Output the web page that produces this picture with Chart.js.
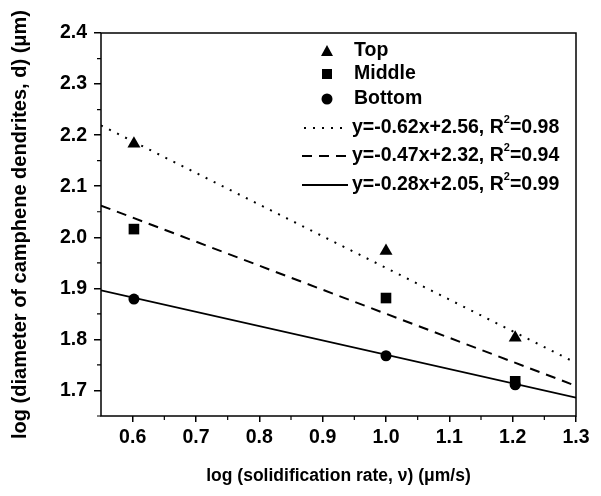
<!DOCTYPE html>
<html>
<head>
<meta charset="utf-8">
<script src="https://cdn.jsdelivr.net/npm/chart.js@4.4.1/dist/chart.umd.min.js"></script>
<style>
  html, body { margin: 0; padding: 0; background: #fff; }
  #wrap { width: 601px; height: 496px; }
</style>
</head>
<body>
<div id="wrap"><canvas id="c" width="601" height="496"></canvas></div>
<script>
// measured points (log v, log d)
const xVals = [0.602, 1.0, 1.204];
const topVals = [2.183, 1.973, 1.803];
const middleVals = [2.016, 1.881, 1.718];
const bottomVals = [1.879, 1.768, 1.711];

// fitted lines, end points at x = 0.55 and 1.3
const fitX = [0.55, 1.3];
const fitTop = [2.219, 1.754];
const fitMiddle = [2.062, 1.709];
const fitBottom = [1.896, 1.686];

const fitLabels = ['y=-0.62x+2.56, R', 'y=-0.47x+2.32, R', 'y=-0.28x+2.05, R'];
const fitR2 = ['=0.98', '=0.94', '=0.99'];

const xTicks = [0.6, 0.7, 0.8, 0.9, 1.0, 1.1, 1.2, 1.3];
const yTicks = [1.7, 1.8, 1.9, 2.0, 2.1, 2.2, 2.3, 2.4];

const FONT = "'Liberation Sans', Arial, sans-serif";
const FS = 19.5;

function pts(xs, ys) {
    return xs.map((x, i) => ({ x: x, y: ys[i] }));
}

// frame + minor ticks
const framePlugin = {
    id: 'frame',
    afterDraw(chart) {
        const { ctx, chartArea: a, scales } = chart;
        ctx.save();
        ctx.strokeStyle = '#000';
        ctx.lineWidth = 1.5;
        ctx.strokeRect(a.left, a.top, a.right - a.left, a.bottom - a.top);
        ctx.lineWidth = 1.2;
        ctx.beginPath();
        for (let i = 0; i < xTicks.length - 1; i++) {
            const px = scales.x.getPixelForValue((xTicks[i] + xTicks[i + 1]) / 2);
            ctx.moveTo(px, a.bottom);
            ctx.lineTo(px, a.bottom + 4);
        }
        for (let i = 0; i < yTicks.length - 1; i++) {
            const py = scales.y.getPixelForValue((yTicks[i] + yTicks[i + 1]) / 2);
            ctx.moveTo(a.left, py);
            ctx.lineTo(a.left - 4, py);
        }
        const py0 = scales.y.getPixelForValue(1.65);
        ctx.moveTo(a.left, py0);
        ctx.lineTo(a.left - 4, py0);
        ctx.stroke();
        ctx.restore();
    }
};

// legend drawn inside the plot
const legendPlugin = {
    id: 'customLegend',
    afterDraw(chart) {
        const ctx = chart.ctx;
        ctx.save();
        ctx.fillStyle = '#000';
        ctx.strokeStyle = '#000';
        ctx.font = 'bold ' + FS + 'px ' + FONT;
        ctx.textBaseline = 'middle';
        const symX = 327, textX = 354;
        const rows = [51, 74, 99];
        const names = ['Top', 'Middle', 'Bottom'];
        // triangle
        ctx.beginPath();
        ctx.moveTo(symX, rows[0] - 6);
        ctx.lineTo(symX + 6, rows[0] + 5);
        ctx.lineTo(symX - 6, rows[0] + 5);
        ctx.closePath();
        ctx.fill();
        ctx.fillRect(symX - 5, rows[1] - 5, 10, 10);
        ctx.beginPath();
        ctx.arc(symX, rows[2], 5.5, 0, Math.PI * 2);
        ctx.fill();
        names.forEach((n, i) => ctx.fillText(n, textX, rows[i]));

        const lineRows = [128, 156, 185];
        const dashes = [[2, 7], [10, 7], []];
        const widths = [2, 2, 1.8];
        lineRows.forEach((ly, i) => {
            ctx.save();
            ctx.lineWidth = widths[i];
            ctx.setLineDash(dashes[i]);
            ctx.beginPath();
            ctx.moveTo(i === 0 ? 304 : 302, ly);
            ctx.lineTo(348, ly);
            ctx.stroke();
            ctx.restore();
            let tx = 352;
            ctx.font = 'bold ' + FS + 'px ' + FONT;
            ctx.fillText(fitLabels[i], tx, ly);
            tx += ctx.measureText(fitLabels[i]).width;
            ctx.font = 'bold 11px ' + FONT;
            ctx.fillText('2', tx, ly - 8);
            tx += ctx.measureText('2').width;
            ctx.font = 'bold ' + FS + 'px ' + FONT;
            ctx.fillText(fitR2[i], tx, ly);
        });
        ctx.restore();
    }
};

new Chart(document.getElementById('c'), {
    type: 'scatter',
    data: {
        datasets: [
            { label: 'Top', data: pts(xVals, topVals), pointStyle: 'triangle', pointRadius: 7.5,
              backgroundColor: '#000', borderColor: '#000', borderWidth: 0 },
            { label: 'Middle', data: pts(xVals, middleVals), pointStyle: 'rect', pointRadius: 7.5,
              backgroundColor: '#000', borderColor: '#000', borderWidth: 0 },
            { label: 'Bottom', data: pts(xVals, bottomVals), pointStyle: 'circle', pointRadius: 5.5,
              backgroundColor: '#000', borderColor: '#000', borderWidth: 0 },
            { label: 'fitTop', data: pts(fitX, fitTop), showLine: true, pointRadius: 0,
              borderColor: '#000', borderWidth: 2, borderDash: [2, 7] },
            { label: 'fitMiddle', data: pts(fitX, fitMiddle), showLine: true, pointRadius: 0,
              borderColor: '#000', borderWidth: 2, borderDash: [10, 7] },
            { label: 'fitBottom', data: pts(fitX, fitBottom), showLine: true, pointRadius: 0,
              borderColor: '#000', borderWidth: 1.8 }
        ]
    },
    options: {
        responsive: false,
        animation: false,
        layout: { padding: { left: 0, top: 33, right: 25, bottom: 0 } },
        plugins: { legend: { display: false }, tooltip: { enabled: false } },
        scales: {
            x: {
                type: 'linear', min: 0.55, max: 1.3,
                afterBuildTicks: s => { s.ticks = xTicks.map(v => ({ value: v })); },
                afterFit: s => { s.height = 80; },
                grid: { drawOnChartArea: false, tickLength: 6, color: '#000', lineWidth: 1.5 },
                border: { display: false },
                ticks: { color: '#000', padding: 4, maxRotation: 0,
                         font: { family: FONT, size: FS, weight: 'bold' },
                         callback: v => v.toFixed(1) },
                title: { display: true, text: 'log (solidification rate, \u03bd) (\u03bcm/s)', color: '#000',
                         font: { family: FONT, size: 17.5, weight: 'bold' }, padding: { top: 9, bottom: 9 } }
            },
            y: {
                type: 'linear', min: 1.65, max: 2.4,
                afterBuildTicks: s => { s.ticks = yTicks.map(v => ({ value: v })); },
                afterFit: s => { s.width = 101; },
                grid: { drawOnChartArea: false, tickLength: 7, color: '#000', lineWidth: 1.5 },
                border: { display: false },
                ticks: { color: '#000', padding: 7,
                         font: { family: FONT, size: FS, weight: 'bold' },
                         callback: v => v.toFixed(1) },
                title: { display: true, text: 'log (diameter of camphene dendrites, d) (\u03bcm)', color: '#000',
                         font: { family: FONT, size: 20, weight: 'bold' }, padding: { top: 8, bottom: 0 } }
            }
        }
    },
    plugins: [framePlugin, legendPlugin]
});
</script>
</body>
</html>
